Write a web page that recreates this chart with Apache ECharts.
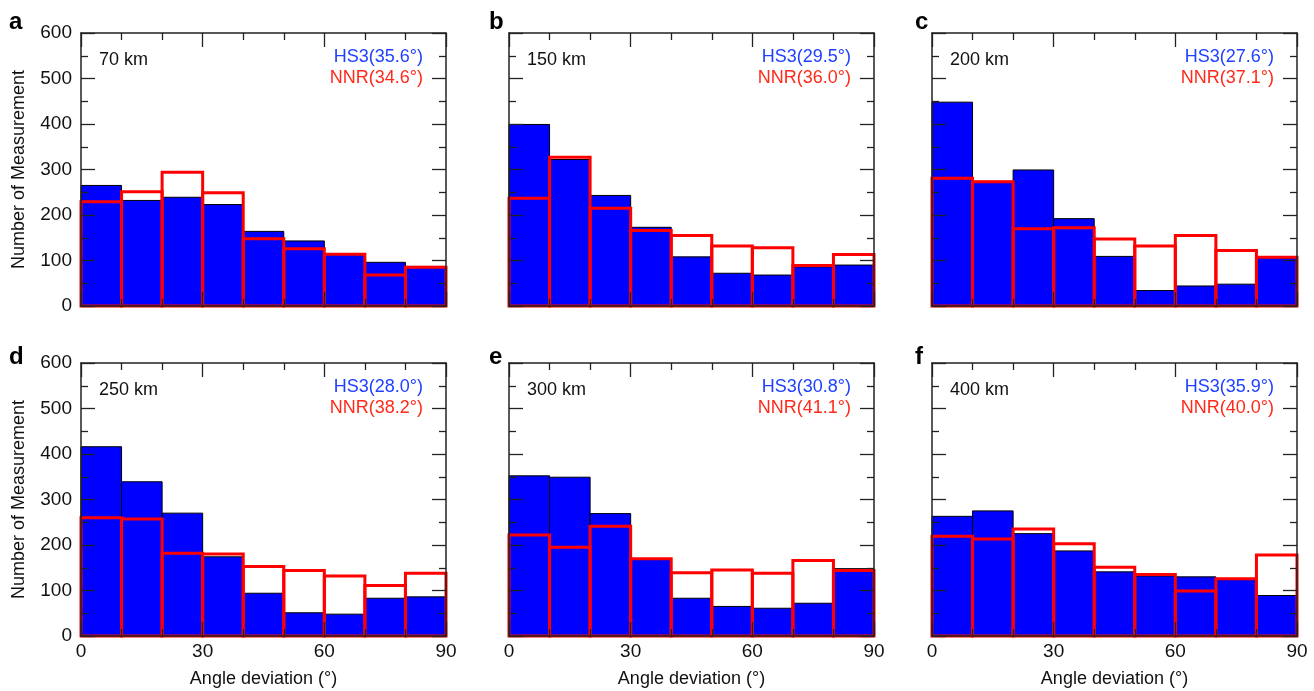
<!DOCTYPE html>
<html>
<head>
<meta charset="utf-8">
<script src="https://cdn.jsdelivr.net/npm/echarts@6/dist/echarts.min.js"></script>
<style>
  html, body { margin: 0; padding: 0; background: #fff; }
  #main { width: 1314px; height: 691px; }
</style>
</head>
<body>
<div id="main"></div>
<script>
// bin edges (degrees)
var binEdges = [0, 10, 20, 30, 40, 50, 60, 70, 80, 90];

var panelLetters = ['a', 'b', 'c', 'd', 'e', 'f'];
var depthLabels = ['70 km', '150 km', '200 km', '250 km', '300 km', '400 km'];
var hs3Means = ['35.6', '29.5', '27.6', '28.0', '30.8', '35.9'];
var nnrMeans = ['34.6', '36.0', '37.1', '38.2', '41.1', '40.0'];

// counts per 10 degree bin
var hs3_70 = [265, 232, 239, 223, 164, 143, 113, 96, 87];
var nnr_70 = [229, 251, 294, 249, 148, 126, 114, 68, 85];
var hs3_150 = [399, 322, 243, 173, 108, 72, 68, 86, 90];
var nnr_150 = [237, 327, 215, 166, 155, 132, 128, 89, 113];
var hs3_200 = [448, 274, 299, 192, 109, 34, 44, 48, 106];
var nnr_200 = [281, 273, 170, 172, 147, 132, 155, 122, 107];
var hs3_250 = [416, 339, 270, 174, 94, 51, 48, 83, 86];
var nnr_250 = [260, 257, 182, 180, 153, 144, 132, 111, 138];
var hs3_300 = [352, 349, 269, 170, 83, 65, 61, 72, 148];
var nnr_300 = [222, 195, 241, 170, 139, 145, 138, 166, 144];
var hs3_400 = [263, 275, 225, 187, 141, 132, 130, 124, 89];
var nnr_400 = [219, 213, 235, 203, 151, 135, 99, 126, 178];

var hs3All = [hs3_70, hs3_150, hs3_200, hs3_250, hs3_300, hs3_400];
var nnrAll = [nnr_70, nnr_150, nnr_200, nnr_250, nnr_300, nnr_400];

var FONT = '"Liberation Sans", Arial, Helvetica, sans-serif';
var lefts = [81, 509, 932];
var tops = [33, 363];
var letterTops = [10, 345];
var letterShift = [72, 20, 17];
var W = 365, H = 273;

function toBins(counts) {
    var out = [];
    for (var i = 0; i < counts.length; i++) {
        out.push([binEdges[i], binEdges[i + 1], counts[i]]);
    }
    return out;
}

function makeRender(filled) {
    return function (params, api) {
        var p0 = api.coord([api.value(0), 0]);
        var p1 = api.coord([api.value(1), api.value(2)]);
        return {
            type: 'rect',
            shape: { x: p0[0], y: p1[1], width: p1[0] - p0[0], height: p0[1] - p1[1] },
            style: filled
                ? { fill: '#0000ff', stroke: '#000', lineWidth: 1 }
                : { fill: 'none', stroke: '#ff0000', lineWidth: 3 }
        };
    };
}

var grids = [], xAxes = [], yAxes = [], series = [], titles = [];
var tickStyle = { color: '#222', width: 1.3 };
var lineStyle = { color: '#222', width: 1.5 };

function frameAxis(extra) {
    var a = {
        type: 'value', z: 10,
        axisLine: { show: true, onZero: false, lineStyle: lineStyle },
        axisTick: { show: true, inside: true, length: 14, lineStyle: tickStyle },
        minorTick: { show: true, length: 7, lineStyle: tickStyle },
        axisLabel: { show: false },
        splitLine: { show: false }
    };
    for (var k in extra) {
        if (k === 'minorSplit') a.minorTick.splitNumber = extra[k];
        else a[k] = extra[k];
    }
    return a;
}

for (var p = 0; p < 6; p++) {
    var col = p % 3, row = Math.floor(p / 3);
    var gl = lefts[col], gt = tops[row];
    grids.push({ left: gl, top: gt, width: W, height: H });

    var bottomRow = row === 1, leftCol = col === 0;

    xAxes.push(frameAxis({
        gridIndex: p, min: 0, max: 90, interval: 30, position: 'bottom', minorSplit: 3,
        name: bottomRow ? 'Angle deviation (°)' : '', nameLocation: 'middle', nameGap: 34,
        nameTextStyle: { fontSize: 18, color: '#111', fontFamily: FONT },
        axisLabel: { show: bottomRow, fontSize: 19, color: '#111', margin: 6, fontFamily: FONT }
    }));
    xAxes.push(frameAxis({
        gridIndex: p, min: 0, max: 90, interval: 30, position: 'top', minorSplit: 3
    }));
    yAxes.push(frameAxis({
        gridIndex: p, min: 0, max: 600, interval: 100, position: 'left', minorSplit: 2,
        name: leftCol ? 'Number of Measurement' : '', nameLocation: 'middle', nameGap: 53,
        nameTextStyle: { fontSize: 18, color: '#111', fontFamily: FONT },
        axisLabel: { show: leftCol, fontSize: 19, color: '#111', margin: 9, fontFamily: FONT }
    }));
    yAxes.push(frameAxis({
        gridIndex: p, min: 0, max: 600, interval: 100, position: 'right', minorSplit: 2
    }));

    series.push({
        type: 'custom', name: 'HS3', xAxisIndex: p * 2, yAxisIndex: p * 2, z: 2,
        renderItem: makeRender(true), encode: { x: [0, 1], y: 2 },
        data: toBins(hs3All[p]), silent: true
    });
    series.push({
        type: 'custom', name: 'NNR', xAxisIndex: p * 2, yAxisIndex: p * 2, z: 3,
        renderItem: makeRender(false), encode: { x: [0, 1], y: 2 },
        data: toBins(nnrAll[p]), silent: true
    });

    titles.push({
        text: panelLetters[p], left: gl - letterShift[col], top: letterTops[row], padding: 0,
        textStyle: { fontSize: 24, fontWeight: 'bold', color: '#000', fontFamily: FONT }
    });
    titles.push({
        text: depthLabels[p], left: gl + 18, top: gt + 18, padding: 0,
        textStyle: { fontSize: 18, fontWeight: 'normal', color: '#111', fontFamily: FONT }
    });
    titles.push({
        text: 'HS3(' + hs3Means[p] + '°)', right: 1314 - (gl + W - 23), top: gt + 15, padding: 0,
        textStyle: { fontSize: 18, fontWeight: 'normal', color: '#2040ff', fontFamily: FONT }
    });
    titles.push({
        text: 'NNR(' + nnrMeans[p] + '°)', right: 1314 - (gl + W - 23), top: gt + 36, padding: 0,
        textStyle: { fontSize: 18, fontWeight: 'normal', color: '#ff2a1a', fontFamily: FONT }
    });
}

var chart = echarts.init(document.getElementById('main'));
chart.setOption({
    backgroundColor: '#fff',
    animation: false,
    title: titles,
    grid: grids,
    xAxis: xAxes,
    yAxis: yAxes,
    series: series
});
</script>
</body>
</html>
